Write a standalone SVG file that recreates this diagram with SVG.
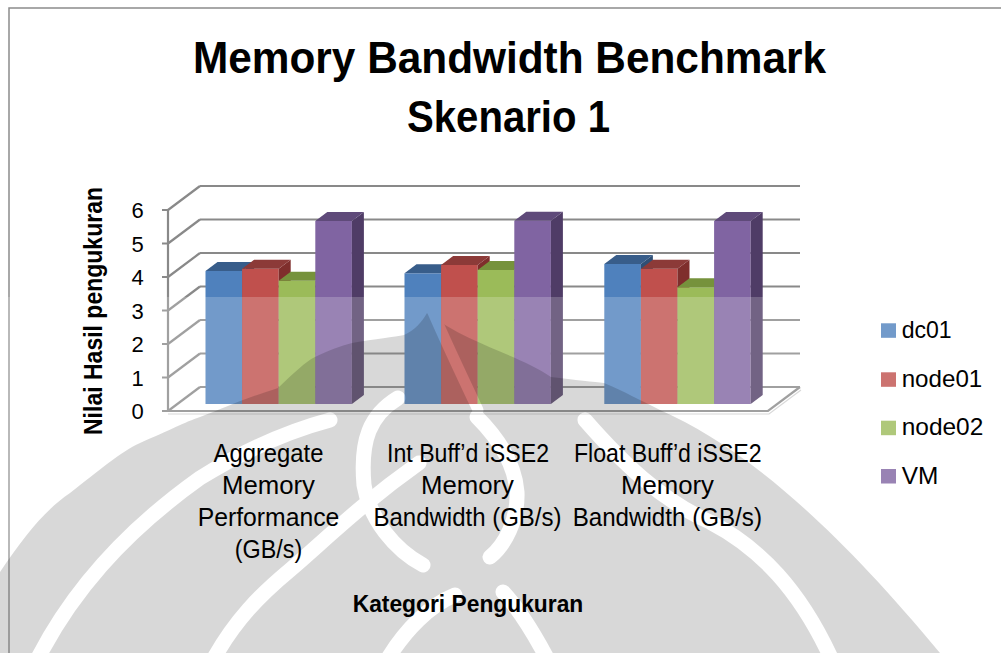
<svg xmlns="http://www.w3.org/2000/svg" width="1001" height="653" viewBox="0 0 1001 653">
  <style>
    .grid { stroke: #898989; stroke-width: 2.2; fill: none; }
    .gridlite { stroke: #d0d0d0; stroke-width: 1.2; fill: none; }
    .tick { font-family: "Liberation Sans", Arial, sans-serif; font-size: 22px; fill: #000; text-anchor: middle; }
    .cat { font-family: "Liberation Sans", Arial, sans-serif; font-size: 25px; fill: #000; text-anchor: middle; }
    .leg { font-family: "Liberation Sans", Arial, sans-serif; font-size: 24px; fill: #000; }
    .bold { font-family: "Liberation Sans", Arial, sans-serif; font-weight: bold; fill: #000; }
    .b-front { fill: #4f81bd; } .b-top { fill: #385d8a; } .b-side { fill: #2f4f75; }
    .r-front { fill: #c0504d; } .r-top { fill: #8c3a38; } .r-side { fill: #7f2e2c; }
    .g-front { fill: #9bbb59; } .g-top { fill: #76923c; } .g-side { fill: #62793a; }
    .p-front { fill: #8064a2; } .p-top { fill: #5f4a7a; } .p-side { fill: #4f3c66; }
  </style>
  <defs>
    <!-- faded emblem in the lower part of the page -->
    <mask id="emblemMask" maskUnits="userSpaceOnUse" x="0" y="297" width="1001" height="356">
      <rect x="0" y="0" width="1001" height="653" fill="#000"/>
      <path d="M0,653 L0,572 C25,535 45,510 70,493 C100,470 120,452 140,443 C170,430 185,422 200,417 C225,408 240,400 278,388 C295,372 305,362 315,357 C330,350 340,346 352,343 C375,339 395,337 404,335 C415,330 422,322 427,313 C470,345 520,355 551,377 C575,380 595,382 604,383 C625,392 640,400 660,410 C740,445 830,520 940,653 Z" fill="#fff"/>
      <g fill="none" stroke="#000" stroke-width="15" stroke-linecap="round">
        <path d="M37,660 C70,595 120,535 200,478 C245,450 285,432 330,420"/>
        <path d="M213,660 C235,620 260,595 290,570 C325,540 360,505 419,463"/>
        <path d="M398,398 C370,415 360,440 364,485 C370,520 395,550 423,565"/>
        <path d="M477,417 C500,440 515,465 517,492 C518,520 505,545 490,557"/>
        <path d="M585,420 C620,460 660,500 710,522 C760,548 800,590 832,660"/>
        <path d="M387,660 C405,630 430,605 455,595"/>
        <path d="M548,660 C532,630 518,608 503,592"/>
      </g>
      <path d="M432,310 C445,340 460,372 478,410" fill="none" stroke="#000" stroke-width="11" stroke-linecap="round"/>
    </mask>
  </defs>

  <rect x="0" y="0" width="1001" height="653" fill="#fff"/>

  <!-- chart frame -->
  <rect id="frame" x="9" y="8" width="1010" height="700" fill="none" stroke="#8c8c8c" stroke-width="1.5"/>

  <!-- back wall and side wall gridlines -->
  <g id="gridlines">
    <g class="grid">
      <path d="M200,186 H800 M200,219.5 H800 M200,253 H800 M200,286.5 H800 M200,320 H800 M200,353.5 H800 M200,387 H800"/>
      <path d="M168,210 L200,186 M168,243.5 L200,219.5 M168,277 L200,253 M168,310.5 L200,286.5 M168,344 L200,320 M168,377.5 L200,353.5 M168,411 L200,387"/>
    </g>
    <!-- floor -->
    <path d="M168,411 H768 L800,387" class="grid" stroke-width="2.6"/>
    <path d="M168,414 H769 L801,390" class="gridlite"/>
  </g>

  <!-- value axis -->
  <g id="value-axis" class="grid">
    <path d="M168,210 V411"/>
    <path d="M162,210 H168 M162,243.5 H168 M162,277 H168 M162,310.5 H168 M162,344 H168 M162,377.5 H168 M162,411 H168"/>
  </g>

  <!-- bars: front face, right side, top -->
  <g id="group-aggregate">
    <rect class="b-front" x="205.5" y="271" width="36.6" height="133"/>
    <polygon class="b-side" points="242.1,271 254.1,262 254.1,395 242.1,404"/>
    <polygon class="b-top" points="205.5,271 242.1,271 254.1,262 217.5,262"/>
    <rect class="r-front" x="242.1" y="268.7" width="36.6" height="135.3"/>
    <polygon class="r-side" points="278.7,268.7 290.7,259.7 290.7,395 278.7,404"/>
    <polygon class="r-top" points="242.1,268.7 278.7,268.7 290.7,259.7 254.1,259.7"/>
    <rect class="g-front" x="278.7" y="280.7" width="36.6" height="123.3"/>
    <polygon class="g-side" points="315.3,280.7 327.3,271.7 327.3,395 315.3,404"/>
    <polygon class="g-top" points="278.7,280.7 315.3,280.7 327.3,271.7 290.7,271.7"/>
    <rect class="p-front" x="315.3" y="221" width="36.6" height="183"/>
    <polygon class="p-side" points="351.9,221 363.9,212 363.9,395 351.9,404"/>
    <polygon class="p-top" points="315.3,221 351.9,221 363.9,212 327.3,212"/>
  </g>
  <g id="group-int">
    <rect class="b-front" x="404.5" y="273.3" width="36.6" height="130.7"/>
    <polygon class="b-side" points="441.1,273.3 453.1,264.3 453.1,395 441.1,404"/>
    <polygon class="b-top" points="404.5,273.3 441.1,273.3 453.1,264.3 416.5,264.3"/>
    <rect class="r-front" x="441.1" y="265" width="36.6" height="139"/>
    <polygon class="r-side" points="477.7,265 489.7,256 489.7,395 477.7,404"/>
    <polygon class="r-top" points="441.1,265 477.7,265 489.7,256 453.1,256"/>
    <rect class="g-front" x="477.7" y="270" width="36.6" height="134"/>
    <polygon class="g-side" points="514.3,270 526.3,261 526.3,395 514.3,404"/>
    <polygon class="g-top" points="477.7,270 514.3,270 526.3,261 489.7,261"/>
    <rect class="p-front" x="514.3" y="220.7" width="36.6" height="183.3"/>
    <polygon class="p-side" points="550.9,220.7 562.9,211.7 562.9,395 550.9,404"/>
    <polygon class="p-top" points="514.3,220.7 550.9,220.7 562.9,211.7 526.3,211.7"/>
  </g>
  <g id="group-float">
    <rect class="b-front" x="604.3" y="264" width="36.6" height="140"/>
    <polygon class="b-side" points="640.9,264 652.9,255 652.9,395 640.9,404"/>
    <polygon class="b-top" points="604.3,264 640.9,264 652.9,255 616.3,255"/>
    <rect class="r-front" x="640.9" y="268.7" width="36.6" height="135.3"/>
    <polygon class="r-side" points="677.5,268.7 689.5,259.7 689.5,395 677.5,404"/>
    <polygon class="r-top" points="640.9,268.7 677.5,268.7 689.5,259.7 652.9,259.7"/>
    <rect class="g-front" x="677.5" y="287.3" width="36.6" height="116.7"/>
    <polygon class="g-side" points="714.1,287.3 726.1,278.3 726.1,395 714.1,404"/>
    <polygon class="g-top" points="677.5,287.3 714.1,287.3 726.1,278.3 689.5,278.3"/>
    <rect class="p-front" x="714.1" y="221" width="36.6" height="183"/>
    <polygon class="p-side" points="750.7,221 762.7,212 762.7,395 750.7,404"/>
    <polygon class="p-top" points="714.1,221 750.7,221 762.7,212 726.1,212"/>
  </g>

  <!-- legend keys -->
  <g id="legend-keys">
    <rect class="b-front" x="881" y="323.3" width="15" height="14.5"/>
    <rect class="r-front" x="881" y="372.3" width="15" height="14.5"/>
    <rect class="g-front" x="881" y="420.7" width="15" height="14.5"/>
    <rect class="p-front" x="881" y="469" width="15" height="14.5"/>
  </g>

  <!-- lower page wash and emblem -->
  <rect id="wash" x="0" y="297" width="1001" height="356" fill="#fff" opacity="0.2"/>
  <rect id="emblem" x="0" y="297" width="1001" height="356" fill="#000" opacity="0.15" mask="url(#emblemMask)"/>

  <!-- title -->
  <g id="title">
    <text class="bold" x="509.5" y="72.7" font-size="45" text-anchor="middle" textLength="633" lengthAdjust="spacingAndGlyphs">Memory Bandwidth Benchmark</text>
    <text class="bold" x="508.5" y="131.7" font-size="45" text-anchor="middle" textLength="203" lengthAdjust="spacingAndGlyphs">Skenario 1</text>
  </g>

  <!-- value axis labels -->
  <g id="value-labels">
    <text class="tick" x="137.5" y="218">6</text>
    <text class="tick" x="137.5" y="251.5">5</text>
    <text class="tick" x="137.5" y="285">4</text>
    <text class="tick" x="137.5" y="318.5">3</text>
    <text class="tick" x="137.5" y="352">2</text>
    <text class="tick" x="137.5" y="385.5">1</text>
    <text class="tick" x="137.5" y="419">0</text>
  </g>
  <text id="value-title" class="bold" font-size="25" text-anchor="middle" transform="translate(102,311) rotate(-90)" textLength="248" lengthAdjust="spacingAndGlyphs">Nilai Hasil pengukuran</text>

  <!-- category labels -->
  <g id="category-labels">
    <text class="cat" x="268.5" y="461.5" textLength="110" lengthAdjust="spacingAndGlyphs">Aggregate</text>
    <text class="cat" x="268.5" y="493.5" textLength="93" lengthAdjust="spacingAndGlyphs">Memory</text>
    <text class="cat" x="268.5" y="525.5" textLength="141.6" lengthAdjust="spacingAndGlyphs">Performance</text>
    <text class="cat" x="268.5" y="557.5" textLength="67.4" lengthAdjust="spacingAndGlyphs">(GB/s)</text>

    <text class="cat" x="468" y="461.5" textLength="162" lengthAdjust="spacingAndGlyphs">Int Buff’d iSSE2</text>
    <text class="cat" x="467.5" y="493.5" textLength="93" lengthAdjust="spacingAndGlyphs">Memory</text>
    <text class="cat" x="467.5" y="525.5" textLength="188" lengthAdjust="spacingAndGlyphs">Bandwidth (GB/s)</text>

    <text class="cat" x="667.8" y="461.5" textLength="187.7" lengthAdjust="spacingAndGlyphs">Float Buff’d iSSE2</text>
    <text class="cat" x="667.5" y="493.5" textLength="93" lengthAdjust="spacingAndGlyphs">Memory</text>
    <text class="cat" x="667.3" y="525.5" textLength="189.3" lengthAdjust="spacingAndGlyphs">Bandwidth (GB/s)</text>
  </g>
  <text id="category-title" class="bold" x="468" y="612" font-size="24" text-anchor="middle" textLength="230.6" lengthAdjust="spacingAndGlyphs">Kategori Pengukuran</text>

  <!-- legend labels -->
  <g id="legend-labels">
    <text class="leg" x="901.7" y="337.5" textLength="50" lengthAdjust="spacingAndGlyphs">dc01</text>
    <text class="leg" x="901.7" y="386.5" textLength="80.6" lengthAdjust="spacingAndGlyphs">node01</text>
    <text class="leg" x="901.7" y="435" textLength="81.6" lengthAdjust="spacingAndGlyphs">node02</text>
    <text class="leg" x="901.7" y="483.5" textLength="36.6" lengthAdjust="spacingAndGlyphs">VM</text>
  </g>
</svg>
